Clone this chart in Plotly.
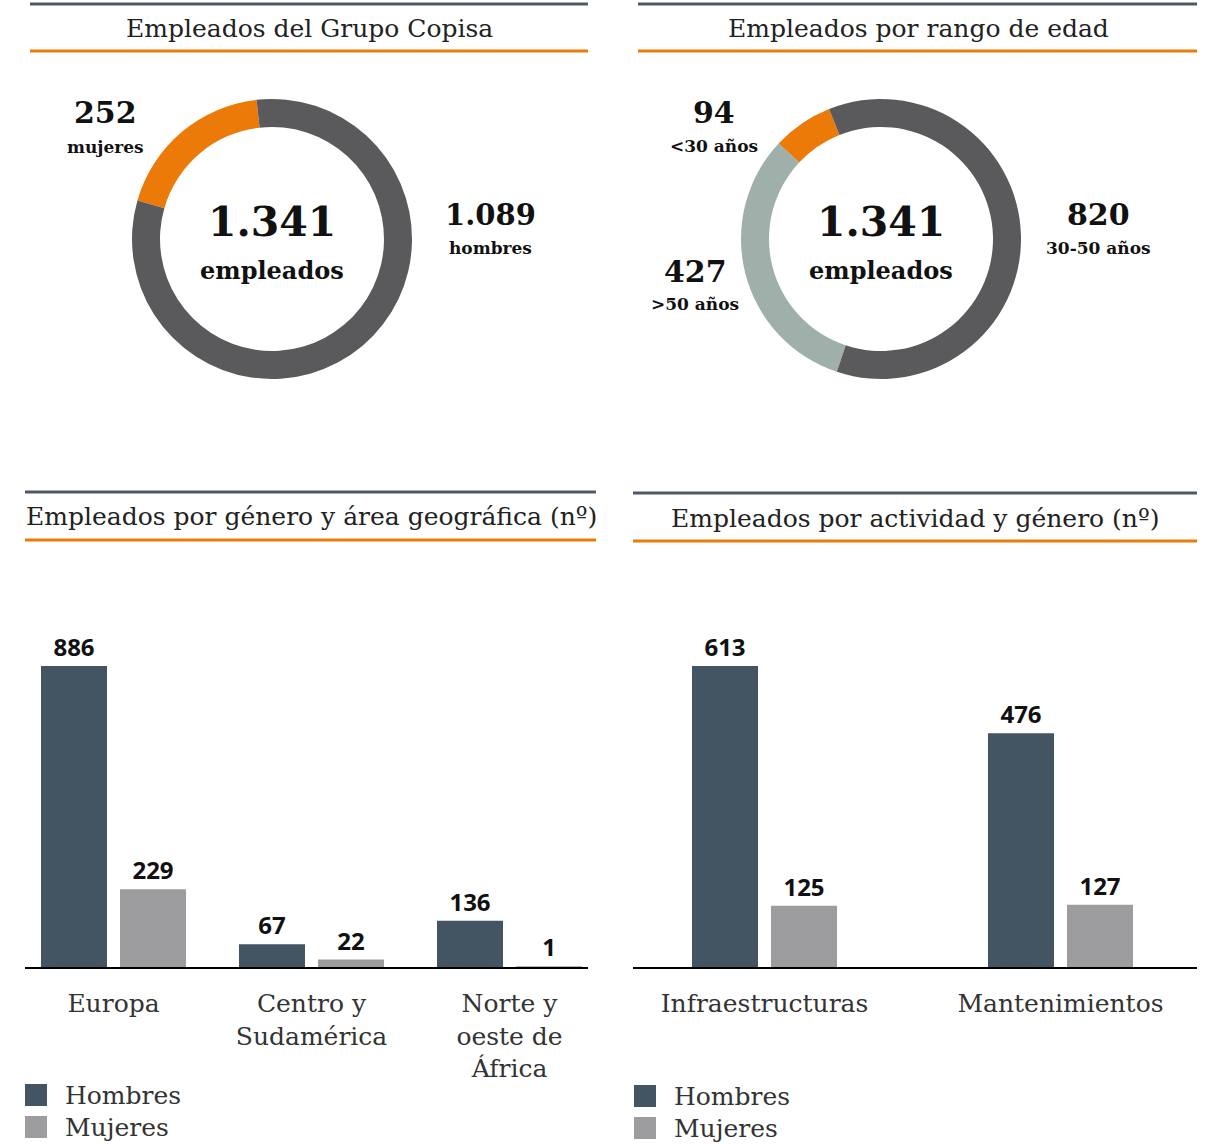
import plotly.graph_objects as go

W, H = 1224, 1144

# ---------------- data ----------------
gender_labels = ["mujeres", "hombres"]
gender_values = [252, 1089]
total_empleados = "1.341"
gender_value_text = ["252", "1.089"]

age_labels = ["<30 años", ">50 años", "30-50 años"]
age_values = [94, 427, 820]
age_value_text = ["94", "427", "820"]

geo_categories = ["Europa", "Centro y<br>Sudamérica", "Norte y<br>oeste de<br>África"]
geo_hombres = [886, 67, 136]
geo_mujeres = [229, 22, 1]

act_categories = ["Infraestructuras", "Mantenimientos"]
act_hombres = [613, 476]
act_mujeres = [125, 127]

titles = ["Empleados del Grupo Copisa", "Empleados por rango de edad",
          "Empleados por género y área geográfica (nº)", "Empleados por actividad y género (nº)"]
legend_names = ["Hombres", "Mujeres"]

# ---------------- style ----------------
ORANGE = "#ec7a08"
DARK = "#5a5a5c"
LIGHTGREEN = "#9fb0ab"
BAR_DARK = "#435563"
BAR_LIGHT = "#9d9d9f"
RULE = "#4d5a66"
SERIF = "DejaVu Serif"
SANS = "Open Sans"


def px(x):
    return x / W


def py(y):
    return 1 - y / H


fig = go.Figure()

# donuts (counterclockwise: first slice spans [rotation, rotation+share], rest go ccw from rotation)
fig.add_trace(go.Pie(
    labels=gender_labels, values=gender_values, hole=0.8, sort=False,
    direction="counterclockwise", rotation=-74,
    marker=dict(colors=[ORANGE, DARK], line=dict(width=0)),
    textinfo="none", hoverinfo="label+value", showlegend=False,
    domain=dict(x=[px(132), px(412)], y=[py(379), py(99)]),
))
fig.add_trace(go.Pie(
    labels=age_labels, values=age_values, hole=0.8, sort=False,
    direction="counterclockwise", rotation=-47,
    marker=dict(colors=[ORANGE, LIGHTGREEN, DARK], line=dict(width=0)),
    textinfo="none", hoverinfo="label+value", showlegend=False,
    domain=dict(x=[px(741), px(1021)], y=[py(379), py(99)]),
))

# bars: geographic
bar_font = dict(family=SANS, size=24, color="#111", weight=700)
fig.add_trace(go.Bar(x=geo_categories, y=geo_hombres, name=legend_names[0],
                     marker=dict(color=BAR_DARK, line=dict(width=0)),
                     width=66 / 198, offset=-72.5 / 198,
                     text=[str(v) for v in geo_hombres], textposition="outside",
                     textfont=bar_font, cliponaxis=False, showlegend=False,
                     xaxis="x", yaxis="y"))
fig.add_trace(go.Bar(x=geo_categories, y=geo_mujeres, name=legend_names[1],
                     marker=dict(color=BAR_LIGHT, line=dict(width=0)),
                     width=66 / 198, offset=6.5 / 198,
                     text=[str(v) for v in geo_mujeres], textposition="outside",
                     textfont=bar_font, cliponaxis=False, showlegend=False,
                     xaxis="x", yaxis="y"))
# bars: activity
fig.add_trace(go.Bar(x=act_categories, y=act_hombres, name=legend_names[0],
                     marker=dict(color=BAR_DARK, line=dict(width=0)),
                     width=66 / 296, offset=-72.5 / 296,
                     text=[str(v) for v in act_hombres], textposition="outside",
                     textfont=bar_font, cliponaxis=False, showlegend=False,
                     xaxis="x2", yaxis="y2"))
fig.add_trace(go.Bar(x=act_categories, y=act_mujeres, name=legend_names[1],
                     marker=dict(color=BAR_LIGHT, line=dict(width=0)),
                     width=66 / 296, offset=6.5 / 296,
                     text=[str(v) for v in act_mujeres], textposition="outside",
                     textfont=bar_font, cliponaxis=False, showlegend=False,
                     xaxis="x2", yaxis="y2"))

tickfont = dict(family=SERIF, size=25, color="#333")
common_x = dict(type="category", showgrid=False, zeroline=False, showline=True,
                linecolor="#000", linewidth=2, ticks="", tickfont=tickfont,
                ticklabelstandoff=13, fixedrange=True)
common_y = dict(visible=False, showgrid=False, zeroline=False, fixedrange=True)

fig.update_layout(
    width=W, height=H, margin=dict(l=0, r=0, t=0, b=0),
    paper_bgcolor="white", plot_bgcolor="white",
    xaxis=dict(common_x, domain=[px(25), px(588)], categoryarray=geo_categories,
               range=[(25 - 113.5) / 198, (588 - 113.5) / 198]),
    yaxis=dict(common_y, domain=[py(967), py(967 - 1000 * 0.3397)], range=[0, 1000]),
    xaxis2=dict(common_x, domain=[px(633), px(1197)], categoryarray=act_categories,
                range=[(633 - 764.5) / 296, (1197 - 764.5) / 296], anchor="y2"),
    yaxis2=dict(common_y, domain=[py(967), py(967 - 700 * 0.491)], range=[0, 700],
                anchor="x2"),
    showlegend=False,
)

shapes = []
annotations = []


def rule(x0, x1, y, color):
    shapes.append(dict(type="line", xref="paper", yref="paper",
                       x0=px(x0), x1=px(x1), y0=py(y), y1=py(y),
                       line=dict(color=color, width=3)))


def text(x, y, s, size, family=SERIF, bold=False, xanchor="center", color="#111"):
    annotations.append(dict(xref="paper", yref="paper", x=px(x), y=py(y), text=s,
                            showarrow=False, xanchor=xanchor, yanchor="middle",
                            font=dict(family=family, size=size, color=color,
                                      weight=700 if bold else 400)))


# panel headers
rule(30, 588, 4, RULE); rule(30, 588, 51, ORANGE)
text(309, 28, titles[0], 25, color="#222")
rule(638, 1197, 4, RULE); rule(638, 1197, 51, ORANGE)
text(918, 28, titles[1], 25, color="#222")
rule(25, 596, 492, RULE); rule(25, 596, 540, ORANGE)
text(24, 517, titles[2], 25, xanchor="left", color="#222")
rule(633, 1197, 493, RULE); rule(633, 1197, 541, ORANGE)
text(915, 518, titles[3], 25, color="#222")

# donut 1 texts
text(272, 222, total_empleados, 41, bold=True)
text(272, 270, "empleados", 24, bold=True)
text(105, 113, gender_value_text[0], 30, bold=True)
text(105, 147, gender_labels[0], 17, bold=True)
text(490, 215, gender_value_text[1], 29, bold=True)
text(490, 248, gender_labels[1], 17, bold=True)

# donut 2 texts
text(881, 222, total_empleados, 41, bold=True)
text(881, 270, "empleados", 24, bold=True)
text(714, 113, age_value_text[0], 30, bold=True)
text(714, 146, age_labels[0], 17, bold=True)
text(695, 271, age_value_text[1], 30, bold=True)
text(695, 304, age_labels[1], 17, bold=True)
text(1098, 215, age_value_text[2], 30, bold=True)
text(1098, 248, age_labels[2], 17, bold=True)

# legends
for (lx, ly0) in [(25, 1084), (634, 1085)]:
    for i, (nm, col) in enumerate(zip(legend_names, [BAR_DARK, BAR_LIGHT])):
        y0 = ly0 + 32 * i
        shapes.append(dict(type="rect", xref="paper", yref="paper",
                           x0=px(lx), x1=px(lx + 22), y0=py(y0 + 22), y1=py(y0),
                           fillcolor=col, line=dict(width=0)))
        text(lx + 38, y0 + 11, nm, 25, xanchor="left", color="#333")

fig.update_layout(shapes=shapes, annotations=annotations)
fig.write_html("out.html", config={"displayModeBar": False},
               post_script="document.body.style.margin='0';document.body.style.overflow='hidden';")
